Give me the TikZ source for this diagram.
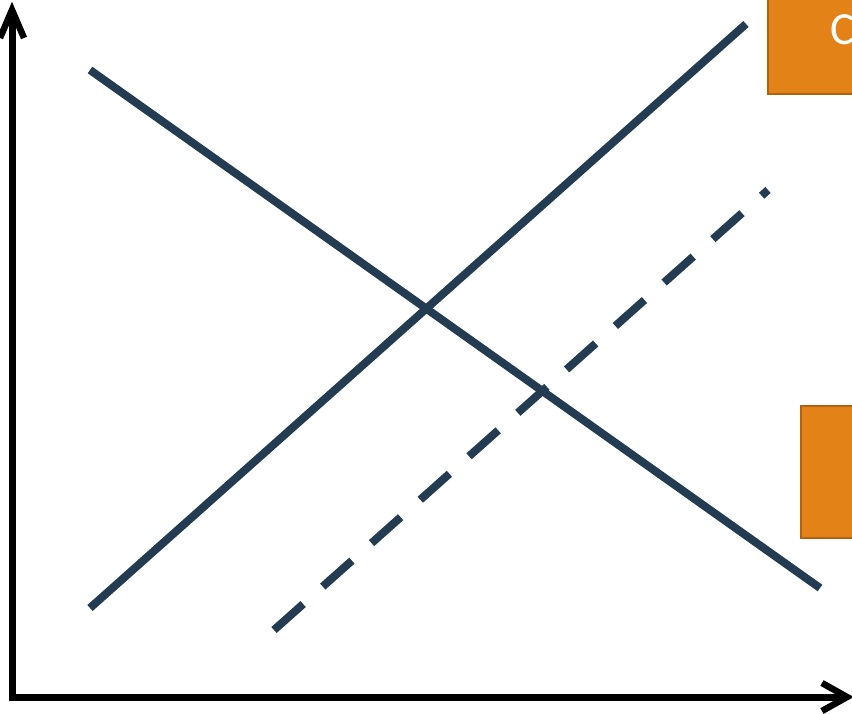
\documentclass[tikz,border=0pt]{standalone}
\usepackage{fontspec}
\setmainfont{Carlito}
\definecolor{lineblue}{HTML}{243C52}
\definecolor{boxorange}{HTML}{E38216}
\definecolor{boxedge}{HTML}{B0620F}
\begin{document}
\begin{tikzpicture}[x=1pt,y=-1pt,
  curve/.style={draw=lineblue,line width=8pt},
  axis/.style={draw=black,line width=7pt},
  tipline/.style={draw=black,line width=6.5pt,line join=miter},
  orangebox/.style={fill=boxorange,draw=boxedge,line width=2.5pt},
  boxtext/.style={text=white,font=\fontsize{46}{46}\selectfont,anchor=base west,inner sep=0pt}]
\useasboundingbox (0,0) rectangle (852,714);
\clip (0,0) rectangle (852,714);
% orange boxes
\path[orangebox] (768,-10) rectangle (870,94);
\node[boxtext] (ctext) at (830,45) {C};
\path[orangebox] (801,406) rectangle (870,538);
% axes
\coordinate (origin) at (12,697);
\coordinate (ytop) at (12,12);
\coordinate (xend) at (846,697);
\draw[axis] (12,700.5) -- (ytop);
\draw[axis] (8.5,697) -- (xend);
\draw[tipline] (0,38) -- (12,10) -- (24,38);
\draw[tipline] (822,683) -- (847,697) -- (822,711);
% demand
\coordinate (d1) at (90,70);
\coordinate (d2) at (820,588);
\draw[curve] (d1) -- (d2);
% supply
\coordinate (s1) at (90,608);
\coordinate (s2) at (746,24);
\draw[curve] (s1) -- (s2);
% shifted supply (dashed)
\coordinate (t1) at (274,630);
\coordinate (t2) at (768,190);
\draw[curve,dash pattern=on 39pt off 26.3pt] (t1) -- (t2);
\end{tikzpicture}
\end{document}
